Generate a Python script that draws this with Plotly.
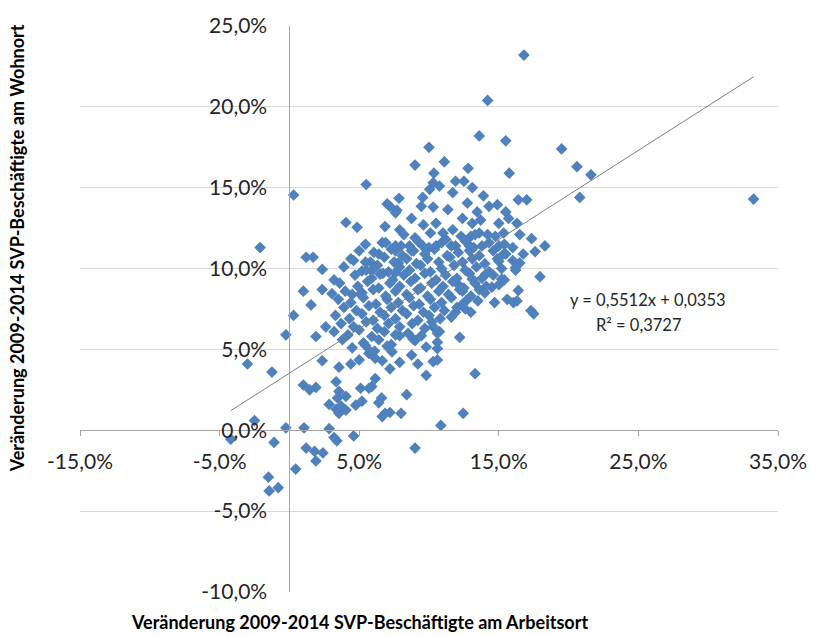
import plotly.graph_objects as go

# Veränderung 2009-2014 in %, x = Arbeitsort, y = Wohnort
x_top = [16.8, 14.2, 13.6, 15.5, 10.0, 19.5, 9.0, 11.1, 12.8, 20.6, 15.75, 21.6, 10.35]
y_top = [23.2, 20.4, 18.2, 17.9, 17.5, 17.4, 16.4, 16.6, 16.2, 16.3, 15.9, 15.8, 15.9]

x_14 = [10.3, 10.75, 11.9, 12.5, 5.5, 13.1, 10.05, 11.7, 13.9, 20.8, 33.25, 9.55, 7.85, 16.4, 17.0, 0.3]
y_14 = [15.3, 15.1, 15.4, 15.4, 15.2, 15.0, 14.9, 14.7, 14.5, 14.4, 14.3, 14.4, 14.35, 14.25, 14.25, 14.55]

x_13 = [12.75, 14.9, 14.3, 7.2, 7.0, 10.3, 11.35, 13.45, 15.5, 7.7, 8.75, 12.4, 13.7, 15.7, 7.6, 9.45]
y_13 = [14.05, 13.95, 13.85, 13.85, 14.0, 13.8, 13.65, 13.5, 13.5, 13.6, 13.1, 13.1, 13.0, 13.1, 13.45, 13.85]

x_12 = [7.9, 9.6, 10.5, 11.7, 13.1, 15.0, 16.3, 16.5, 11.0, 13.0, 13.6, 14.2, 14.75, 15.35, 4.05, 4.85, 6.85]
y_12 = [12.4, 12.7, 12.8, 12.4, 12.8, 12.8, 12.8, 12.1, 12.2, 12.0, 12.2, 12.1, 12.0, 12.2, 12.85, 12.55, 12.6]

x_11 = [17.35, 18.3, 7.6, 8.6, 9.55, 10.5, 11.9, 12.9, 13.8, 15.0, 16.0, -2.1, 5.45, 6.65, 6.05, 17.6, 16.75]
y_11 = [11.85, 11.4, 11.4, 11.4, 11.4, 11.4, 11.4, 11.4, 11.4, 11.4, 11.3, 11.3, 11.5, 11.6, 11.0, 11.05, 10.9]

x_10 = [1.2, 1.7, 4.6, 5.45, 7.6, 7.8, 8.75, 16.5, 16.2, 15.35, 15.0]
y_10 = [10.7, 10.7, 10.5, 10.4, 11.1, 10.35, 11.1, 10.35, 10.05, 10.9, 10.45]

x_9 = [2.35, 5.2, 5.9, 6.5, 3.2, 7.6, 17.95, 14.05, 15.2, 13.1, 12.05]
y_9 = [9.95, 9.85, 9.85, 9.65, 9.3, 9.75, 9.5, 9.65, 9.35, 9.35, 9.05]

x_7 = [1.0, 2.35, 3.05, 4.5, 5.2, 16.4, 14.5, 13.6, 12.4, 15.6, 16.3, 12.65, 1.55, 0.3,
       17.3, 17.5, 11.9, 12.6, 16.05]
y_7 = [8.6, 8.7, 8.45, 8.4, 8.5, 8.65, 8.85, 8.7, 8.6, 8.1, 8.0, 8.0, 7.75, 7.1,
       7.4, 7.2, 7.3, 7.5, 7.9]

x_5 = [2.6, 10.2, 10.3, 10.75, -0.25, 1.9, 12.2, 10.6, 9.45, 9.0, 8.85, 7.9, 5.45, 10.6]
y_5 = [6.4, 6.7, 6.4, 6.1, 5.9, 5.8, 5.75, 5.45, 5.85, 5.55, 5.65, 5.85, 5.25, 6.0]

x_3 = [-3.0, 2.35, 4.4, 5.0, 5.7, 5.8, 6.15, 8.75, 9.2, 7.9, 7.35, 6.65, 10.6, 9.8, 10.6,
       10.3, -1.25, 3.55, 7.2, 6.15, 9.8, 13.3]
y_3 = [4.1, 4.3, 4.1, 4.35, 4.75, 4.85, 4.45, 4.65, 4.1, 4.2, 4.85, 4.3, 4.35, 5.15, 5.05,
       4.25, 3.6, 3.9, 3.8, 3.2, 3.4, 3.5]

x_1 = [1.0, 1.45, 1.9, 3.35, 3.55, 4.05, 5.1, 5.7, 5.9, 6.6, 8.4, 3.45, 2.85, 3.35, 3.7,
       4.75, 5.2, 6.4, 3.55, 4.05]
y_1 = [2.8, 2.5, 2.65, 3.0, 2.4, 2.1, 2.6, 2.6, 2.7, 2.0, 2.2, 2.0, 1.6, 1.3, 1.5,
       1.55, 1.8, 1.7, 1.05, 1.25]

x_low = [6.85, 6.65, 8.0, 7.2, 12.45, 10.85, -2.5, 2.85, 1.05, -0.25, 3.2, 3.4, 4.6, -4.2,
         -1.1, 1.2, 1.8, 2.4, 1.9, 9.0, 0.45, -1.5, -1.45, -0.8]
y_low = [1.05, 0.85, 1.05, 1.1, 1.05, 0.3, 0.6, 0.1, 0.15, 0.15, -0.45, -0.65, -0.35, -0.55,
         -0.75, -1.1, -1.3, -1.4, -1.9, -1.1, -2.4, -2.9, -3.75, -3.55]

# dense core of the cloud
x_core = [8.2, 9.0, 10.1, 11.2, 12.3, 13.3,
          6.9, 8.0, 9.2, 10.0, 10.9, 11.6, 12.6, 13.2, 14.3, 15.4,
          5.0, 6.4, 7.3, 8.1, 8.9, 9.7, 10.4, 11.3, 12.1, 12.9, 13.6, 14.6, 15.5,
          4.4, 5.8, 6.8, 7.5, 8.4, 9.1, 9.9, 10.7, 11.5, 12.4, 13.1, 14.0, 14.9, 16.0,
          3.9, 5.5, 6.3, 7.1, 7.9, 8.6, 9.4, 10.1, 10.9, 11.8, 12.6, 13.4, 14.3, 15.2, 16.2,
          4.7, 5.9, 6.7, 7.4, 8.2, 9.0, 9.7, 10.5, 11.2, 12.0, 12.9, 13.8, 14.6, 15.4,
          3.6, 4.9, 5.6, 6.4, 7.2, 7.9, 8.7, 9.4, 10.2, 11.0, 11.7, 12.5, 13.3, 14.1, 15.0,
          4.0, 5.1, 6.0, 6.9, 7.6, 8.4, 9.2, 9.9, 10.7, 11.4, 12.2, 13.0, 14.0,
          3.5, 4.4, 5.3, 6.2, 7.0, 7.8, 8.6, 9.3, 10.1, 10.9, 11.6, 12.4, 13.5, 14.7,
          3.9, 4.8, 5.7, 6.5, 7.3, 8.1, 8.9, 9.6, 10.4, 11.1, 12.0, 13.0,
          3.3, 4.3, 5.2, 6.0, 6.8, 7.6, 8.4, 9.2, 10.0, 10.8, 11.6,
          3.7, 4.6, 5.5, 6.3, 7.1, 7.9, 8.8, 9.7,
          3.2, 4.2, 5.0, 5.9, 6.8, 7.6, 8.5,
          3.8, 5.3, 6.4, 7.3,
          4.5, 6.1, 7.0]
y_core = [12.1, 11.9, 12.2, 11.8, 12.0, 12.1,
          11.6, 11.4, 11.7, 11.3, 11.6, 11.4, 11.7, 11.3, 11.6, 11.5,
          11.1, 10.9, 11.2, 10.8, 11.1, 10.9, 11.2, 10.8, 11.0, 11.1, 10.8, 11.1, 10.9,
          10.6, 10.4, 10.7, 10.4, 10.6, 10.3, 10.6, 10.4, 10.7, 10.4, 10.6, 10.3, 10.6, 10.5,
          10.1, 9.9, 10.2, 9.8, 10.1, 9.9, 10.2, 9.8, 10.0, 10.2, 9.9, 10.1, 9.8, 10.0, 9.9,
          9.6, 9.4, 9.7, 9.3, 9.6, 9.4, 9.7, 9.3, 9.6, 9.4, 9.7, 9.4, 9.6, 9.3,
          9.1, 8.9, 9.2, 8.8, 9.1, 8.9, 9.2, 8.8, 9.1, 8.9, 9.2, 8.8, 9.1, 8.9, 9.0,
          8.6, 8.4, 8.7, 8.3, 8.6, 8.4, 8.7, 8.3, 8.6, 8.4, 8.7, 8.3, 8.5,
          8.1, 7.9, 8.2, 7.8, 8.1, 7.9, 8.2, 7.8, 8.1, 7.9, 8.2, 7.8, 8.0, 7.9,
          7.6, 7.4, 7.7, 7.3, 7.6, 7.4, 7.7, 7.3, 7.6, 7.4, 7.6, 7.3,
          7.1, 6.9, 7.2, 6.8, 7.1, 6.9, 7.2, 6.8, 7.1, 6.9, 7.0,
          6.6, 6.4, 6.7, 6.3, 6.6, 6.4, 6.6, 6.3,
          6.1, 5.9, 6.2, 5.8, 6.1, 5.9, 6.0,
          5.6, 5.4, 5.6, 5.3,
          5.1, 4.9, 5.2]

x_vals = x_top + x_14 + x_13 + x_12 + x_11 + x_10 + x_9 + x_7 + x_5 + x_3 + x_1 + x_low + x_core
y_vals = y_top + y_14 + y_13 + y_12 + y_11 + y_10 + y_9 + y_7 + y_5 + y_3 + y_1 + y_low + y_core

# linear trend from the Excel label (fractions -> percent)
SLOPE = 0.5512
INTERCEPT = 3.53
EQ_TEXT = "y = 0,5512x + 0,0353"
R2_TEXT = "R² = 0,3727"

X_TICKS = [-15, -5, 5, 15, 25, 35]
Y_TICKS = [-10, -5, 0, 5, 10, 15, 20, 25]
X_RANGE = [-15, 35]
Y_RANGE = [-10, 25]


def pct(v):
    return f"{v:.1f}%".replace(".", ",")


BLUE = "#4F81BD"
FONT = "Lato, sans-serif"

trend_x = [min(x_vals), max(x_vals)]
trend_y = [SLOPE * v + INTERCEPT for v in trend_x]

fig = go.Figure()
fig.add_trace(go.Scatter(
    x=x_vals, y=y_vals, mode="markers",
    marker=dict(symbol="diamond", size=9, color=BLUE, line=dict(width=0)),
    hoverinfo="skip",
))
fig.add_trace(go.Scatter(
    x=trend_x, y=trend_y, mode="lines",
    line=dict(color="#7F7F7F", width=1),
    hoverinfo="skip",
))

fig.add_annotation(x=25.7, y=8.05, xref="x", yref="y", text=EQ_TEXT, showarrow=False,
                   font=dict(family=FONT, size=16.5, color="#262626"))
fig.add_annotation(x=25.0, y=6.5, xref="x", yref="y", text=R2_TEXT, showarrow=False,
                   font=dict(family=FONT, size=16.5, color="#262626"))

# axis titles
fig.add_annotation(x=0.07, y=-0.053, xref="paper", yref="paper", xanchor="left", yanchor="middle",
                   text="<b>Veränderung 2009-2014 SVP-Beschäftigte am Arbeitsort</b>", showarrow=False,
                   font=dict(family=FONT, size=18, color="#000000"))
fig.add_annotation(x=-0.089, y=0.607, xref="paper", yref="paper", xanchor="center", yanchor="middle",
                   textangle=-90,
                   text="<b>Veränderung 2009-2014 SVP-Beschäftigte am Wohnort</b>", showarrow=False,
                   font=dict(family=FONT, size=18, color="#000000"))

# axes cross at 0/0 like the Excel original
x_pos = (0 - Y_RANGE[0]) / (Y_RANGE[1] - Y_RANGE[0])
y_pos = (0 - X_RANGE[0]) / (X_RANGE[1] - X_RANGE[0])

fig.update_layout(
    width=819, height=636,
    margin=dict(l=80, r=32, t=22, b=44),
    paper_bgcolor="white", plot_bgcolor="white",
    showlegend=False,
    font=dict(family=FONT, size=21, color="#262626"),
    xaxis=dict(
        range=X_RANGE, tickvals=X_TICKS, ticktext=[pct(v) for v in X_TICKS],
        showgrid=False, zeroline=False, showline=True, linecolor="#A6A6A6", linewidth=1,
        ticks="outside", ticklen=5, tickcolor="#A6A6A6",
        anchor="free", position=x_pos, ticklabelstandoff=8,
    ),
    yaxis=dict(
        range=Y_RANGE, tickvals=Y_TICKS, ticktext=[pct(v) for v in Y_TICKS],
        showgrid=True, gridcolor="#D9D9D9", gridwidth=1,
        zeroline=False, showline=True, linecolor="#A6A6A6", linewidth=1,
        ticks="", anchor="free", position=y_pos, ticklabelstandoff=18,
    ),
)

fig.write_html(
    "out.html",
    config={"displayModeBar": False},
    post_script="document.body.style.margin='0';document.documentElement.style.overflow='hidden';",
)
